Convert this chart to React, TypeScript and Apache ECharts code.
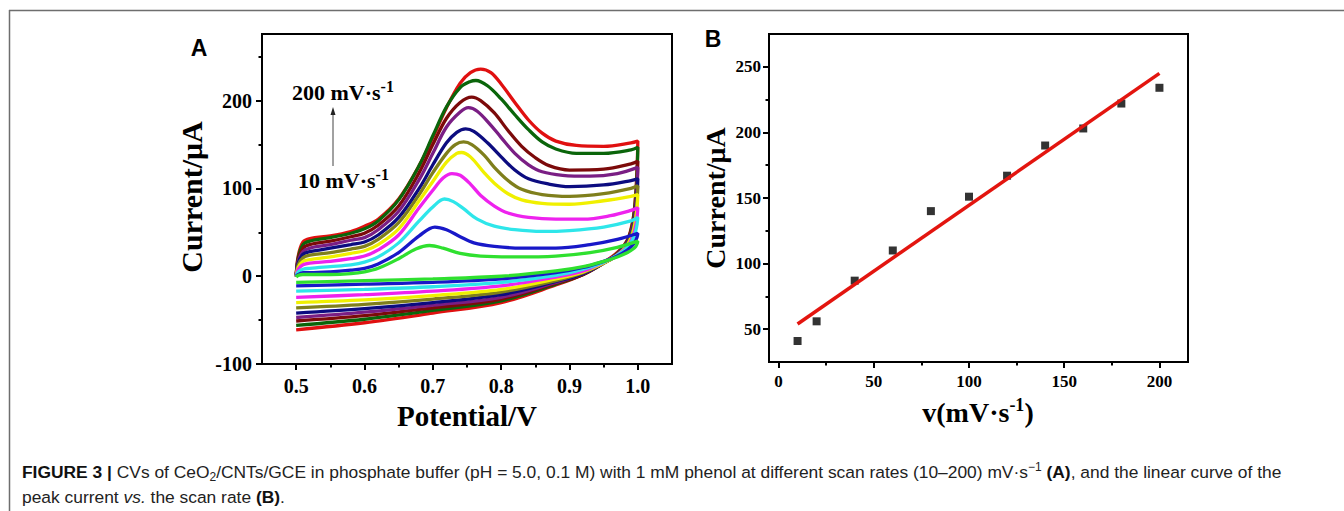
import React, { useEffect, useRef } from 'react';
import * as echarts from 'echarts';

// ---------- data ----------
const scanRates = [10, 20, 40, 60, 80, 100, 120, 140, 160, 180, 200];
const peakCurrent = [41, 56, 87, 110, 140, 151, 167, 190, 203, 222, 234];
const fitLine = [[10, 54], [200, 245]];

const xTicksA = [0.5, 0.6, 0.7, 0.8, 0.9, 1.0];
const xMinorA = [0.55, 0.65, 0.75, 0.85, 0.95];
const yTicksA = [-100, 0, 100, 200];
const yMinorA = [-50, 50, 150, 250];
const xTicksB = [0, 50, 100, 150, 200];
const xMinorB = [25, 75, 125, 175];
const yTicksB = [50, 100, 150, 200, 250];
const yMinorB = [75, 125, 175, 225];

const curveColors = ['#2fe02f', '#1818c8', '#2ee6ea', '#ee22ee', '#f0f000', '#7f7f1c', '#0c0c80', '#7a1e84', '#7c0a0a', '#0a650a', '#e01010'];

const fwd10 = [[0.5,-1],[0.503,1],[0.51,2],[0.52,2],[0.55,2],[0.58,3],[0.6,5],[0.62,9],[0.65,20],[0.675,31],[0.695,35],[0.715,32],[0.74,26],[0.77,23],[0.82,22],[0.88,23],[0.93,27],[0.97,33],[1.0,40]];
const rev10 = [[1.0,40],[0.999,37],[0.997,34],[0.993,31],[0.985,27],[0.97,22],[0.95,17],[0.92,11],[0.88,6],[0.8,0],[0.7,-3],[0.6,-5],[0.5,-7]];
const fwd20 = [[0.5,0],[0.503,2],[0.51,4],[0.52,4],[0.55,5],[0.58,7],[0.6,9],[0.62,14],[0.65,27],[0.68,46],[0.703,56],[0.72,53],[0.74,45],[0.76,38],[0.79,34],[0.83,32],[0.88,32],[0.93,36],[0.97,42],[1.0,49]];
const rev20 = [[1.0,49],[0.999,45],[0.997,41],[0.993,36],[0.985,30],[0.97,23],[0.95,17],[0.92,10],[0.88,4],[0.8,-3],[0.7,-7],[0.6,-9],[0.5,-11]];
const fwd40 = [[0.5,0],[0.503,5],[0.51,8],[0.52,9],[0.55,11],[0.58,13],[0.6,16],[0.62,22],[0.65,38],[0.68,63],[0.7,79],[0.717,88],[0.73,85],[0.745,77],[0.765,65],[0.79,57],[0.82,53],[0.86,51],[0.9,52],[0.95,56],[0.99,63],[1.0,67]];
const rev40 = [[1.0,67],[0.999,60],[0.997,52],[0.993,43],[0.985,33],[0.97,24],[0.95,16],[0.92,8],[0.88,1],[0.8,-7],[0.7,-12],[0.6,-15],[0.5,-17]];
const fwd60 = [[0.5,0],[0.503,8],[0.51,13],[0.52,15],[0.55,17],[0.58,20],[0.6,23],[0.62,30],[0.65,47],[0.68,78],[0.7,98],[0.715,112],[0.728,117],[0.74,115],[0.755,105],[0.77,92],[0.79,80],[0.81,72],[0.84,67],[0.88,65],[0.92,65],[0.96,69],[0.99,75],[1.0,78]];
const rev60 = [[1.0,78],[0.999,68],[0.997,58],[0.993,46],[0.985,34],[0.97,24],[0.95,16],[0.92,6],[0.88,-1],[0.8,-11],[0.7,-17],[0.6,-21],[0.5,-24]];
const fwd80 = [[0.5,0],[0.503,10],[0.51,17],[0.52,19],[0.55,22],[0.58,26],[0.6,29],[0.62,36],[0.65,54],[0.68,86],[0.7,108],[0.72,130],[0.735,140],[0.742,141],[0.755,136],[0.775,118],[0.79,106],[0.81,94],[0.83,87],[0.86,83],[0.9,82],[0.95,86],[0.99,91],[1.0,93]];
const rev80 = [[1.0,93],[0.999,80],[0.997,66],[0.993,50],[0.985,36],[0.97,24],[0.95,15],[0.92,5],[0.88,-3],[0.8,-15],[0.7,-22],[0.6,-27],[0.5,-30]];
const fwd100 = [[0.5,0],[0.503,13],[0.51,21],[0.52,24],[0.55,27],[0.58,31],[0.6,34],[0.62,42],[0.65,61],[0.68,93],[0.7,118],[0.72,140],[0.733,150],[0.745,153],[0.757,150],[0.775,138],[0.79,124],[0.81,109],[0.83,99],[0.86,93],[0.9,91],[0.95,94],[0.99,100],[1.0,103]];
const rev100 = [[1.0,103],[0.999,87],[0.997,71],[0.993,53],[0.985,37],[0.97,24],[0.95,15],[0.92,4],[0.88,-5],[0.8,-18],[0.7,-26],[0.6,-32],[0.5,-36]];
const fwd120 = [[0.5,0],[0.503,15],[0.51,25],[0.52,28],[0.55,32],[0.58,36],[0.6,39],[0.62,47],[0.65,67],[0.68,100],[0.7,127],[0.72,152],[0.735,164],[0.748,168],[0.76,165],[0.78,152],[0.8,136],[0.82,121],[0.84,111],[0.87,105],[0.9,102],[0.95,104],[0.99,109],[1.0,111]];
const rev120 = [[1.0,111],[0.999,93],[0.997,75],[0.993,55],[0.985,38],[0.97,24],[0.95,15],[0.92,3],[0.88,-6],[0.8,-21],[0.7,-30],[0.6,-37],[0.5,-42]];
const fwd140 = [[0.5,0],[0.503,17],[0.51,28],[0.52,32],[0.55,36],[0.58,41],[0.6,44],[0.62,53],[0.65,74],[0.68,110],[0.7,140],[0.72,170],[0.74,187],[0.752,192],[0.765,188],[0.785,172],[0.8,158],[0.82,140],[0.84,127],[0.86,119],[0.89,115],[0.93,114],[0.97,117],[1.0,124]];
const rev140 = [[1.0,124],[0.999,103],[0.997,81],[0.993,58],[0.985,39],[0.97,25],[0.95,15],[0.92,3],[0.88,-7],[0.8,-24],[0.7,-33],[0.6,-41],[0.5,-47]];
const fwd160 = [[0.5,0],[0.503,19],[0.51,32],[0.52,36],[0.55,40],[0.58,45],[0.6,49],[0.62,58],[0.65,80],[0.68,118],[0.7,150],[0.72,180],[0.74,198],[0.757,204],[0.77,200],[0.79,186],[0.81,166],[0.83,148],[0.85,135],[0.87,126],[0.9,121],[0.95,122],[0.99,128],[1.0,131]];
const rev160 = [[1.0,131],[0.999,108],[0.997,85],[0.993,60],[0.985,40],[0.97,25],[0.95,15],[0.92,2],[0.88,-8],[0.8,-26],[0.7,-36],[0.6,-45],[0.5,-51]];
const fwd180 = [[0.5,0],[0.503,21],[0.51,36],[0.52,40],[0.55,44],[0.58,49],[0.6,54],[0.62,63],[0.65,87],[0.68,126],[0.7,160],[0.72,193],[0.74,215],[0.755,222],[0.763,223],[0.78,217],[0.8,202],[0.82,184],[0.84,167],[0.86,153],[0.88,145],[0.91,140],[0.95,140],[0.99,144],[1.0,147]];
const rev180 = [[1.0,147],[0.999,120],[0.997,92],[0.993,63],[0.985,41],[0.97,26],[0.95,15],[0.92,2],[0.88,-9],[0.8,-28],[0.7,-39],[0.6,-49],[0.5,-56]];
const fwd200 = [[0.5,0],[0.503,23],[0.51,39],[0.52,43],[0.55,46],[0.58,51],[0.6,57],[0.62,65],[0.65,88],[0.68,126],[0.7,158],[0.72,192],[0.74,220],[0.755,232],[0.77,236],[0.785,232],[0.8,219],[0.82,198],[0.84,178],[0.86,163],[0.88,154],[0.91,149],[0.95,148],[0.99,152],[1.0,154]];
const rev200 = [[1.0,154],[0.999,125],[0.997,95],[0.993,65],[0.985,42],[0.97,27],[0.95,16],[0.92,2],[0.88,-10],[0.8,-30],[0.7,-42],[0.6,-53],[0.5,-61]];

const forwardScans = [fwd10, fwd20, fwd40, fwd60, fwd80, fwd100, fwd120, fwd140, fwd160, fwd180, fwd200];
const reverseScans = [rev10, rev20, rev40, rev60, rev80, rev100, rev120, rev140, rev160, rev180, rev200];

const SERIF = '"Liberation Serif", "Times New Roman", serif';
const SANS = '"Liberation Sans", Arial, Helvetica, sans-serif';

function majorAxis(gridIndex: number, min: number, max: number, ticks: number[], fontSize: number, margin: number, fmt: (v: number) => string) {
  return {
    type: 'value', gridIndex, min, max,
    axisLine: { show: true, onZero: false, lineStyle: { color: '#000', width: 2 } },
    axisTick: { show: true, inside: false, length: 6, customValues: ticks, lineStyle: { color: '#000', width: 2 } },
    axisLabel: { show: true, customValues: ticks, formatter: fmt, fontSize, fontWeight: 'bold', fontFamily: SERIF, color: '#000', margin },
    splitLine: { show: false },
  };
}
function minorAxis(gridIndex: number, min: number, max: number, ticks: number[]) {
  return {
    type: 'value', gridIndex, min, max,
    axisLine: { show: false, onZero: false },
    axisTick: { show: true, inside: false, length: 3.5, customValues: ticks, lineStyle: { color: '#000', width: 2 } },
    axisLabel: { show: false },
    splitLine: { show: false },
  };
}

export default function App() {
  const ref = useRef<HTMLDivElement>(null);
  useEffect(() => {
    if (!ref.current) return;
    const chart = echarts.init(ref.current, null, { renderer: 'svg' });

    const cvSeries: any[] = [];
    for (let i = scanRates.length - 1; i >= 0; i--) {
      cvSeries.push({
        type: 'line', name: scanRates[i] + ' mV/s', xAxisIndex: 0, yAxisIndex: 0,
        data: forwardScans[i].concat(reverseScans[i]),
        smooth: 0.35, showSymbol: false, symbol: 'none',
        lineStyle: { color: curveColors[i], width: 3.3 },
        z: 2, silent: true,
      });
    }

    const supRich = (n: number, s: number, lh: number) => ({
      n: { fontSize: n, fontWeight: 'bold', fontFamily: SERIF, lineHeight: lh, fill: '#000' },
      s: { fontSize: s, fontWeight: 'bold', fontFamily: SERIF, lineHeight: lh - 6, verticalAlign: 'top', fill: '#000' },
    });

    const option: any = {
      animation: false,
      backgroundColor: '#fff',
      textStyle: { fontFamily: SERIF },
      grid: [
        { left: 262, top: 34, width: 410, height: 330, show: true, borderColor: '#000', borderWidth: 2, backgroundColor: 'transparent', containLabel: false, outerBoundsMode: 'none' },
        { left: 769, top: 34, width: 419, height: 328, show: true, borderColor: '#000', borderWidth: 2, backgroundColor: 'transparent', containLabel: false, outerBoundsMode: 'none' },
      ],
      xAxis: [
        { ...majorAxis(0, 0.45, 1.05, xTicksA, 20, 12, (v: number) => v.toFixed(1)), position: 'bottom' },
        { ...minorAxis(0, 0.45, 1.05, xMinorA), position: 'bottom' },
        { ...majorAxis(1, -5, 215, xTicksB, 17, 11, (v: number) => String(v)), position: 'bottom' },
        { ...minorAxis(1, -5, 215, xMinorB), position: 'bottom' },
      ],
      yAxis: [
        { ...majorAxis(0, -100, 276, yTicksA, 20, 10, (v: number) => String(v)), position: 'left' },
        { ...minorAxis(0, -100, 276, yMinorA), position: 'left' },
        { ...majorAxis(1, 25, 275, yTicksB, 17, 8, (v: number) => String(v)), position: 'left' },
        { ...minorAxis(1, 25, 275, yMinorB), position: 'left' },
      ],
      series: [
        ...cvSeries,
        {
          type: 'scatter', name: 'peak current', xAxisIndex: 2, yAxisIndex: 2,
          data: scanRates.map((v, i) => [v, peakCurrent[i]]),
          symbol: 'rect', symbolSize: 8, itemStyle: { color: '#000' }, z: 3, silent: true,
        },
        {
          type: 'line', name: 'fit', xAxisIndex: 2, yAxisIndex: 2, data: fitLine,
          showSymbol: false, symbol: 'none', lineStyle: { color: '#e3150f', width: 3.5 }, z: 4, silent: true,
        },
      ],
      graphic: [
        { type: 'line', shape: { x1: 9, y1: 10.5, x2: 1344, y2: 10.5 }, style: { stroke: '#6e6e6e', lineWidth: 1.5 }, silent: true },
        { type: 'line', shape: { x1: 9.5, y1: 10, x2: 9.5, y2: 511 }, style: { stroke: '#6e6e6e', lineWidth: 1.5 }, silent: true },
        { type: 'text', x: 199, y: 48, style: { text: 'A', fontSize: 23, fontWeight: 'bold', fontFamily: SANS, fill: '#000', align: 'center', verticalAlign: 'middle' } },
        { type: 'text', x: 713, y: 39, style: { text: 'B', fontSize: 23, fontWeight: 'bold', fontFamily: SANS, fill: '#000', align: 'center', verticalAlign: 'middle' } },
        { type: 'text', x: 191, y: 197, rotation: Math.PI / 2, style: { text: 'Current/μA', fontSize: 30, fontWeight: 'bold', fontFamily: SERIF, fill: '#000', align: 'center', verticalAlign: 'middle' } },
        { type: 'text', x: 467, y: 416, style: { text: 'Potential/V', fontSize: 29, fontWeight: 'bold', fontFamily: SERIF, fill: '#000', align: 'center', verticalAlign: 'middle' } },
        { type: 'text', x: 715, y: 198, rotation: Math.PI / 2, style: { text: 'Current/μA', fontSize: 28, fontWeight: 'bold', fontFamily: SERIF, fill: '#000', align: 'center', verticalAlign: 'middle' } },
        { type: 'text', x: 978, y: 412, style: { text: '{n|v(mV·s}{s|-1}{n|)}', align: 'center', verticalAlign: 'middle', fill: '#000', rich: supRich(28, 18, 32) } },
        { type: 'text', x: 292, y: 92, style: { text: '{n|200 mV·s}{s|-1}', align: 'left', verticalAlign: 'middle', fill: '#000', rich: supRich(22, 16, 28) } },
        { type: 'text', x: 298, y: 180, style: { text: '{n|10 mV·s}{s|-1}', align: 'left', verticalAlign: 'middle', fill: '#000', rich: supRich(22, 16, 28) } },
        { type: 'line', shape: { x1: 333, y1: 166, x2: 333, y2: 113 }, style: { stroke: '#444', lineWidth: 1 }, silent: true },
        { type: 'polygon', shape: { points: [[333, 107], [330.5, 115], [335.5, 115]] }, style: { fill: '#222' }, silent: true },
        {
          type: 'text', x: 22, y: 472,
          style: {
            text: '{b|FIGURE 3 |} CVs of CeO{sub|2}/CNTs/GCE in phosphate buffer (pH = 5.0, 0.1 M) with 1 mM phenol at different scan rates (10–200) mV·s{sup|−1} {b|(A)}, and the linear curve of the',
            fontSize: 17.4, fontFamily: SANS, fill: '#222', align: 'left', verticalAlign: 'middle',
            rich: {
              b: { fontSize: 17.4, fontWeight: 'bold', fontFamily: SANS, fill: '#111', lineHeight: 22 },
              sub: { fontSize: 12, fontFamily: SANS, fill: '#222', lineHeight: 20, verticalAlign: 'bottom' },
              sup: { fontSize: 12, fontFamily: SANS, fill: '#222', lineHeight: 20, verticalAlign: 'top' },
            },
          },
        },
        {
          type: 'text', x: 22, y: 497,
          style: {
            text: 'peak current {i|vs.} the scan rate {b|(B)}.',
            fontSize: 17.4, fontFamily: SANS, fill: '#222', align: 'left', verticalAlign: 'middle',
            rich: {
              b: { fontSize: 17.4, fontWeight: 'bold', fontFamily: SANS, fill: '#111', lineHeight: 22 },
              i: { fontSize: 17.4, fontStyle: 'italic', fontFamily: SANS, fill: '#222', lineHeight: 22 },
            },
          },
        },
      ],
    };
    chart.setOption(option);
    return () => chart.dispose();
  }, []);

  return <div ref={ref} style={{ position: 'fixed', left: 0, top: 0, width: 1344, height: 511, background: '#fff' }} />;
}
